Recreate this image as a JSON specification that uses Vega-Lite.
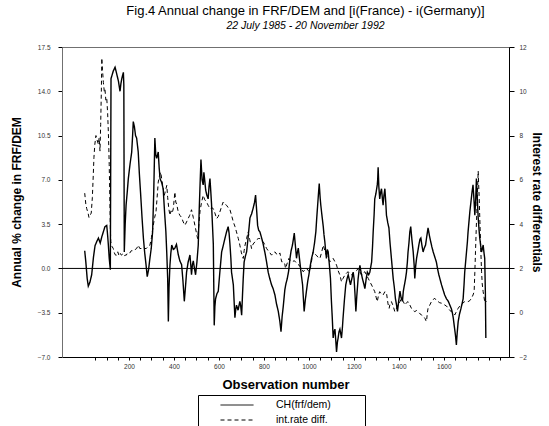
{
  "$schema": "https://vega.github.io/schema/vega-lite/v6.json",
  "autosize": {"type": "none"},
  "padding": {"left": 62, "top": 47, "right": 40, "bottom": 69},
  "width": 447,
  "height": 310,
  "background": "white",
  "config": {
    "font": "Liberation Sans",
    "view": {"stroke": "#707070", "strokeWidth": 1},
    "axis": {"grid": false, "labelFont": "Liberation Sans", "titleFont": "Liberation Sans", "labelColor": "#333", "labelFontSize": 6.5, "titleColor": "black", "titleFontWeight": "bold"}
  },
  "title": {
    "text": "Fig.4 Annual change in FRF/DEM and [i(France) - i(Germany)]",
    "subtitle": "22 July 1985 - 20 November 1992",
    "anchor": "middle",
    "frame": "group",
    "fontSize": 13,
    "fontWeight": "normal",
    "font": "Liberation Sans",
    "color": "black",
    "subtitleFont": "Liberation Sans",
    "subtitleFontStyle": "italic",
    "subtitleFontSize": 10.5,
    "subtitleColor": "black",
    "subtitlePadding": 3,
    "offset": 13,
    "dx": 20
  },
  "data": {
    "values": [
      {"s":"CH(frf/dem)","obs":3,"v":1.4},{"s":"CH(frf/dem)","obs":8,"v":0.5},{"s":"CH(frf/dem)","obs":14,"v":-0.8},{"s":"CH(frf/dem)","obs":19,"v":-1.4},{"s":"CH(frf/dem)","obs":26,"v":-1.1},{"s":"CH(frf/dem)","obs":34,"v":-0.5},{"s":"CH(frf/dem)","obs":42,"v":0.9},{"s":"CH(frf/dem)","obs":49,"v":1.8},{"s":"CH(frf/dem)","obs":56,"v":2.1},{"s":"CH(frf/dem)","obs":64,"v":2.4},{"s":"CH(frf/dem)","obs":72,"v":2.0},{"s":"CH(frf/dem)","obs":79,"v":2.5},{"s":"CH(frf/dem)","obs":86,"v":2.9},{"s":"CH(frf/dem)","obs":93,"v":3.3},{"s":"CH(frf/dem)","obs":101,"v":3.4},{"s":"CH(frf/dem)","obs":105,"v":2.6},{"s":"CH(frf/dem)","obs":108,"v":1.9},{"s":"CH(frf/dem)","obs":112,"v":0.8},{"s":"CH(frf/dem)","obs":117,"v":-0.1},{"s":"CH(frf/dem)","obs":120,"v":15.0},{"s":"CH(frf/dem)","obs":125,"v":15.3},{"s":"CH(frf/dem)","obs":130,"v":15.6},{"s":"CH(frf/dem)","obs":138,"v":15.9},{"s":"CH(frf/dem)","obs":145,"v":15.4},{"s":"CH(frf/dem)","obs":153,"v":14.8},{"s":"CH(frf/dem)","obs":160,"v":14.0},{"s":"CH(frf/dem)","obs":164,"v":14.6},{"s":"CH(frf/dem)","obs":168,"v":15.0},{"s":"CH(frf/dem)","obs":175,"v":15.5},{"s":"CH(frf/dem)","obs":177,"v":14.5},{"s":"CH(frf/dem)","obs":179,"v":1.3},{"s":"CH(frf/dem)","obs":183,"v":3.5},{"s":"CH(frf/dem)","obs":187,"v":5.0},{"s":"CH(frf/dem)","obs":192,"v":6.0},{"s":"CH(frf/dem)","obs":197,"v":7.1},{"s":"CH(frf/dem)","obs":205,"v":8.3},{"s":"CH(frf/dem)","obs":212,"v":9.2},{"s":"CH(frf/dem)","obs":216,"v":10.5},{"s":"CH(frf/dem)","obs":219,"v":11.6},{"s":"CH(frf/dem)","obs":224,"v":11.2},{"s":"CH(frf/dem)","obs":229,"v":10.5},{"s":"CH(frf/dem)","obs":234,"v":10.3},{"s":"CH(frf/dem)","obs":241,"v":9.2},{"s":"CH(frf/dem)","obs":246,"v":7.5},{"s":"CH(frf/dem)","obs":252,"v":5.8},{"s":"CH(frf/dem)","obs":258,"v":4.0},{"s":"CH(frf/dem)","obs":264,"v":2.4},{"s":"CH(frf/dem)","obs":270,"v":1.2},{"s":"CH(frf/dem)","obs":276,"v":0.25},{"s":"CH(frf/dem)","obs":281,"v":-0.65},{"s":"CH(frf/dem)","obs":287,"v":-0.1},{"s":"CH(frf/dem)","obs":293,"v":0.8},{"s":"CH(frf/dem)","obs":299,"v":1.6},{"s":"CH(frf/dem)","obs":305,"v":2.9},{"s":"CH(frf/dem)","obs":310,"v":6.0},{"s":"CH(frf/dem)","obs":315,"v":10.3},{"s":"CH(frf/dem)","obs":319,"v":9.0},{"s":"CH(frf/dem)","obs":323,"v":8.7},{"s":"CH(frf/dem)","obs":330,"v":9.2},{"s":"CH(frf/dem)","obs":334,"v":8.0},{"s":"CH(frf/dem)","obs":338,"v":7.1},{"s":"CH(frf/dem)","obs":345,"v":6.8},{"s":"CH(frf/dem)","obs":352,"v":6.3},{"s":"CH(frf/dem)","obs":358,"v":4.5},{"s":"CH(frf/dem)","obs":364,"v":2.9},{"s":"CH(frf/dem)","obs":368,"v":1.2},{"s":"CH(frf/dem)","obs":372,"v":-0.8},{"s":"CH(frf/dem)","obs":375,"v":-4.2},{"s":"CH(frf/dem)","obs":378,"v":-1.5},{"s":"CH(frf/dem)","obs":382,"v":0.25},{"s":"CH(frf/dem)","obs":386,"v":1.2},{"s":"CH(frf/dem)","obs":390,"v":1.85},{"s":"CH(frf/dem)","obs":397,"v":1.5},{"s":"CH(frf/dem)","obs":404,"v":1.6},{"s":"CH(frf/dem)","obs":411,"v":1.9},{"s":"CH(frf/dem)","obs":419,"v":1.1},{"s":"CH(frf/dem)","obs":426,"v":0.6},{"s":"CH(frf/dem)","obs":434,"v":0.3},{"s":"CH(frf/dem)","obs":440,"v":-1.0},{"s":"CH(frf/dem)","obs":446,"v":-2.6},{"s":"CH(frf/dem)","obs":451,"v":-1.5},{"s":"CH(frf/dem)","obs":456,"v":-0.3},{"s":"CH(frf/dem)","obs":463,"v":0.5},{"s":"CH(frf/dem)","obs":471,"v":1.06},{"s":"CH(frf/dem)","obs":475,"v":0.2},{"s":"CH(frf/dem)","obs":478,"v":-0.5},{"s":"CH(frf/dem)","obs":482,"v":0.3},{"s":"CH(frf/dem)","obs":486,"v":0.6},{"s":"CH(frf/dem)","obs":491,"v":0.0},{"s":"CH(frf/dem)","obs":496,"v":-0.5},{"s":"CH(frf/dem)","obs":502,"v":0.5},{"s":"CH(frf/dem)","obs":508,"v":1.85},{"s":"CH(frf/dem)","obs":512,"v":4.5},{"s":"CH(frf/dem)","obs":516,"v":6.6},{"s":"CH(frf/dem)","obs":520,"v":8.6},{"s":"CH(frf/dem)","obs":525,"v":7.0},{"s":"CH(frf/dem)","obs":530,"v":6.6},{"s":"CH(frf/dem)","obs":533,"v":7.6},{"s":"CH(frf/dem)","obs":536,"v":7.1},{"s":"CH(frf/dem)","obs":541,"v":6.2},{"s":"CH(frf/dem)","obs":546,"v":5.8},{"s":"CH(frf/dem)","obs":552,"v":5.5},{"s":"CH(frf/dem)","obs":556,"v":6.5},{"s":"CH(frf/dem)","obs":560,"v":7.1},{"s":"CH(frf/dem)","obs":564,"v":6.0},{"s":"CH(frf/dem)","obs":567,"v":5.1},{"s":"CH(frf/dem)","obs":571,"v":3.5},{"s":"CH(frf/dem)","obs":575,"v":1.9},{"s":"CH(frf/dem)","obs":579,"v":-4.5},{"s":"CH(frf/dem)","obs":582,"v":-3.0},{"s":"CH(frf/dem)","obs":585,"v":-2.4},{"s":"CH(frf/dem)","obs":591,"v":-2.0},{"s":"CH(frf/dem)","obs":597,"v":-1.8},{"s":"CH(frf/dem)","obs":604,"v":-0.3},{"s":"CH(frf/dem)","obs":612,"v":1.3},{"s":"CH(frf/dem)","obs":619,"v":1.8},{"s":"CH(frf/dem)","obs":627,"v":2.4},{"s":"CH(frf/dem)","obs":634,"v":2.9},{"s":"CH(frf/dem)","obs":641,"v":3.3},{"s":"CH(frf/dem)","obs":645,"v":2.8},{"s":"CH(frf/dem)","obs":649,"v":1.9},{"s":"CH(frf/dem)","obs":653,"v":0.8},{"s":"CH(frf/dem)","obs":656,"v":-0.3},{"s":"CH(frf/dem)","obs":664,"v":-1.3},{"s":"CH(frf/dem)","obs":668,"v":-2.8},{"s":"CH(frf/dem)","obs":671,"v":-3.9},{"s":"CH(frf/dem)","obs":675,"v":-3.2},{"s":"CH(frf/dem)","obs":678,"v":-2.9},{"s":"CH(frf/dem)","obs":685,"v":-3.3},{"s":"CH(frf/dem)","obs":693,"v":-2.6},{"s":"CH(frf/dem)","obs":697,"v":-3.0},{"s":"CH(frf/dem)","obs":701,"v":-3.7},{"s":"CH(frf/dem)","obs":705,"v":-2.0},{"s":"CH(frf/dem)","obs":708,"v":-0.8},{"s":"CH(frf/dem)","obs":712,"v":0.5},{"s":"CH(frf/dem)","obs":718,"v":1.0},{"s":"CH(frf/dem)","obs":723,"v":1.3},{"s":"CH(frf/dem)","obs":730,"v":2.5},{"s":"CH(frf/dem)","obs":738,"v":4.0},{"s":"CH(frf/dem)","obs":745,"v":4.3},{"s":"CH(frf/dem)","obs":752,"v":4.75},{"s":"CH(frf/dem)","obs":758,"v":5.2},{"s":"CH(frf/dem)","obs":763,"v":5.8},{"s":"CH(frf/dem)","obs":768,"v":4.5},{"s":"CH(frf/dem)","obs":772,"v":3.4},{"s":"CH(frf/dem)","obs":777,"v":3.0},{"s":"CH(frf/dem)","obs":782,"v":2.9},{"s":"CH(frf/dem)","obs":790,"v":2.4},{"s":"CH(frf/dem)","obs":797,"v":1.9},{"s":"CH(frf/dem)","obs":805,"v":1.2},{"s":"CH(frf/dem)","obs":812,"v":0.5},{"s":"CH(frf/dem)","obs":819,"v":-0.3},{"s":"CH(frf/dem)","obs":826,"v":-0.8},{"s":"CH(frf/dem)","obs":834,"v":-1.3},{"s":"CH(frf/dem)","obs":841,"v":-1.6},{"s":"CH(frf/dem)","obs":849,"v":-2.1},{"s":"CH(frf/dem)","obs":856,"v":-2.8},{"s":"CH(frf/dem)","obs":864,"v":-3.4},{"s":"CH(frf/dem)","obs":871,"v":-4.2},{"s":"CH(frf/dem)","obs":876,"v":-5.0},{"s":"CH(frf/dem)","obs":881,"v":-3.8},{"s":"CH(frf/dem)","obs":886,"v":-3.0},{"s":"CH(frf/dem)","obs":893,"v":-1.7},{"s":"CH(frf/dem)","obs":898,"v":-1.2},{"s":"CH(frf/dem)","obs":904,"v":-0.8},{"s":"CH(frf/dem)","obs":910,"v":-0.2},{"s":"CH(frf/dem)","obs":916,"v":0.8},{"s":"CH(frf/dem)","obs":921,"v":1.4},{"s":"CH(frf/dem)","obs":927,"v":1.85},{"s":"CH(frf/dem)","obs":931,"v":2.3},{"s":"CH(frf/dem)","obs":935,"v":2.8},{"s":"CH(frf/dem)","obs":940,"v":1.8},{"s":"CH(frf/dem)","obs":945,"v":0.8},{"s":"CH(frf/dem)","obs":949,"v":1.3},{"s":"CH(frf/dem)","obs":953,"v":1.6},{"s":"CH(frf/dem)","obs":958,"v":0.8},{"s":"CH(frf/dem)","obs":963,"v":0.0},{"s":"CH(frf/dem)","obs":967,"v":-0.6},{"s":"CH(frf/dem)","obs":972,"v":-1.3},{"s":"CH(frf/dem)","obs":976,"v":-2.5},{"s":"CH(frf/dem)","obs":979,"v":-3.4},{"s":"CH(frf/dem)","obs":984,"v":-2.5},{"s":"CH(frf/dem)","obs":989,"v":-1.8},{"s":"CH(frf/dem)","obs":995,"v":-1.0},{"s":"CH(frf/dem)","obs":1000,"v":-0.5},{"s":"CH(frf/dem)","obs":1006,"v":0.2},{"s":"CH(frf/dem)","obs":1012,"v":0.8},{"s":"CH(frf/dem)","obs":1019,"v":1.3},{"s":"CH(frf/dem)","obs":1025,"v":2.0},{"s":"CH(frf/dem)","obs":1031,"v":2.9},{"s":"CH(frf/dem)","obs":1035,"v":4.0},{"s":"CH(frf/dem)","obs":1039,"v":5.0},{"s":"CH(frf/dem)","obs":1043,"v":6.0},{"s":"CH(frf/dem)","obs":1046,"v":6.7},{"s":"CH(frf/dem)","obs":1050,"v":5.6},{"s":"CH(frf/dem)","obs":1053,"v":5.0},{"s":"CH(frf/dem)","obs":1058,"v":4.2},{"s":"CH(frf/dem)","obs":1064,"v":3.3},{"s":"CH(frf/dem)","obs":1067,"v":2.7},{"s":"CH(frf/dem)","obs":1071,"v":2.1},{"s":"CH(frf/dem)","obs":1075,"v":1.3},{"s":"CH(frf/dem)","obs":1078,"v":0.8},{"s":"CH(frf/dem)","obs":1082,"v":1.5},{"s":"CH(frf/dem)","obs":1086,"v":1.3},{"s":"CH(frf/dem)","obs":1091,"v":0.3},{"s":"CH(frf/dem)","obs":1096,"v":-0.8},{"s":"CH(frf/dem)","obs":1100,"v":-2.5},{"s":"CH(frf/dem)","obs":1104,"v":-3.9},{"s":"CH(frf/dem)","obs":1108,"v":-5.5},{"s":"CH(frf/dem)","obs":1112,"v":-5.0},{"s":"CH(frf/dem)","obs":1116,"v":-4.8},{"s":"CH(frf/dem)","obs":1120,"v":-5.8},{"s":"CH(frf/dem)","obs":1123,"v":-6.6},{"s":"CH(frf/dem)","obs":1127,"v":-5.8},{"s":"CH(frf/dem)","obs":1130,"v":-5.5},{"s":"CH(frf/dem)","obs":1134,"v":-5.0},{"s":"CH(frf/dem)","obs":1138,"v":-4.8},{"s":"CH(frf/dem)","obs":1142,"v":-5.2},{"s":"CH(frf/dem)","obs":1145,"v":-5.5},{"s":"CH(frf/dem)","obs":1149,"v":-4.7},{"s":"CH(frf/dem)","obs":1152,"v":-3.9},{"s":"CH(frf/dem)","obs":1158,"v":-2.5},{"s":"CH(frf/dem)","obs":1164,"v":-1.3},{"s":"CH(frf/dem)","obs":1170,"v":-0.8},{"s":"CH(frf/dem)","obs":1175,"v":-0.5},{"s":"CH(frf/dem)","obs":1180,"v":-0.9},{"s":"CH(frf/dem)","obs":1185,"v":-1.3},{"s":"CH(frf/dem)","obs":1190,"v":-0.9},{"s":"CH(frf/dem)","obs":1197,"v":-0.3},{"s":"CH(frf/dem)","obs":1201,"v":-0.8},{"s":"CH(frf/dem)","obs":1205,"v":-2.0},{"s":"CH(frf/dem)","obs":1209,"v":-3.4},{"s":"CH(frf/dem)","obs":1213,"v":-2.2},{"s":"CH(frf/dem)","obs":1219,"v":-0.8},{"s":"CH(frf/dem)","obs":1223,"v":-0.2},{"s":"CH(frf/dem)","obs":1227,"v":0.25},{"s":"CH(frf/dem)","obs":1232,"v":-0.3},{"s":"CH(frf/dem)","obs":1238,"v":-0.8},{"s":"CH(frf/dem)","obs":1244,"v":-1.2},{"s":"CH(frf/dem)","obs":1249,"v":-1.6},{"s":"CH(frf/dem)","obs":1255,"v":-0.8},{"s":"CH(frf/dem)","obs":1260,"v":-0.3},{"s":"CH(frf/dem)","obs":1266,"v":-0.5},{"s":"CH(frf/dem)","obs":1271,"v":-0.3},{"s":"CH(frf/dem)","obs":1275,"v":0.1},{"s":"CH(frf/dem)","obs":1279,"v":0.5},{"s":"CH(frf/dem)","obs":1283,"v":1.7},{"s":"CH(frf/dem)","obs":1286,"v":2.9},{"s":"CH(frf/dem)","obs":1290,"v":4.2},{"s":"CH(frf/dem)","obs":1293,"v":5.5},{"s":"CH(frf/dem)","obs":1298,"v":5.9},{"s":"CH(frf/dem)","obs":1304,"v":6.6},{"s":"CH(frf/dem)","obs":1306,"v":7.0},{"s":"CH(frf/dem)","obs":1308,"v":8.0},{"s":"CH(frf/dem)","obs":1311,"v":6.5},{"s":"CH(frf/dem)","obs":1315,"v":5.5},{"s":"CH(frf/dem)","obs":1319,"v":6.0},{"s":"CH(frf/dem)","obs":1323,"v":6.3},{"s":"CH(frf/dem)","obs":1327,"v":5.5},{"s":"CH(frf/dem)","obs":1330,"v":5.0},{"s":"CH(frf/dem)","obs":1334,"v":5.8},{"s":"CH(frf/dem)","obs":1338,"v":6.3},{"s":"CH(frf/dem)","obs":1342,"v":5.2},{"s":"CH(frf/dem)","obs":1345,"v":4.2},{"s":"CH(frf/dem)","obs":1351,"v":3.6},{"s":"CH(frf/dem)","obs":1356,"v":3.2},{"s":"CH(frf/dem)","obs":1361,"v":2.0},{"s":"CH(frf/dem)","obs":1367,"v":0.8},{"s":"CH(frf/dem)","obs":1371,"v":0.0},{"s":"CH(frf/dem)","obs":1375,"v":-0.8},{"s":"CH(frf/dem)","obs":1380,"v":-1.5},{"s":"CH(frf/dem)","obs":1385,"v":-2.4},{"s":"CH(frf/dem)","obs":1390,"v":-2.9},{"s":"CH(frf/dem)","obs":1394,"v":-3.4},{"s":"CH(frf/dem)","obs":1400,"v":-2.5},{"s":"CH(frf/dem)","obs":1405,"v":-1.8},{"s":"CH(frf/dem)","obs":1410,"v":-2.3},{"s":"CH(frf/dem)","obs":1416,"v":-2.6},{"s":"CH(frf/dem)","obs":1420,"v":-1.8},{"s":"CH(frf/dem)","obs":1425,"v":-1.3},{"s":"CH(frf/dem)","obs":1430,"v":-0.8},{"s":"CH(frf/dem)","obs":1434,"v":-0.3},{"s":"CH(frf/dem)","obs":1438,"v":0.5},{"s":"CH(frf/dem)","obs":1441,"v":1.3},{"s":"CH(frf/dem)","obs":1445,"v":2.0},{"s":"CH(frf/dem)","obs":1449,"v":2.9},{"s":"CH(frf/dem)","obs":1453,"v":3.3},{"s":"CH(frf/dem)","obs":1458,"v":2.3},{"s":"CH(frf/dem)","obs":1464,"v":1.3},{"s":"CH(frf/dem)","obs":1468,"v":0.3},{"s":"CH(frf/dem)","obs":1471,"v":-0.8},{"s":"CH(frf/dem)","obs":1475,"v":0.2},{"s":"CH(frf/dem)","obs":1479,"v":0.8},{"s":"CH(frf/dem)","obs":1484,"v":1.3},{"s":"CH(frf/dem)","obs":1489,"v":1.85},{"s":"CH(frf/dem)","obs":1494,"v":2.3},{"s":"CH(frf/dem)","obs":1498,"v":2.4},{"s":"CH(frf/dem)","obs":1503,"v":1.8},{"s":"CH(frf/dem)","obs":1508,"v":1.3},{"s":"CH(frf/dem)","obs":1513,"v":1.6},{"s":"CH(frf/dem)","obs":1519,"v":1.85},{"s":"CH(frf/dem)","obs":1524,"v":2.5},{"s":"CH(frf/dem)","obs":1530,"v":3.2},{"s":"CH(frf/dem)","obs":1536,"v":2.6},{"s":"CH(frf/dem)","obs":1542,"v":2.1},{"s":"CH(frf/dem)","obs":1547,"v":1.7},{"s":"CH(frf/dem)","obs":1553,"v":1.3},{"s":"CH(frf/dem)","obs":1560,"v":0.9},{"s":"CH(frf/dem)","obs":1567,"v":0.5},{"s":"CH(frf/dem)","obs":1572,"v":0.0},{"s":"CH(frf/dem)","obs":1578,"v":-0.5},{"s":"CH(frf/dem)","obs":1584,"v":-0.9},{"s":"CH(frf/dem)","obs":1590,"v":-1.3},{"s":"CH(frf/dem)","obs":1597,"v":-1.7},{"s":"CH(frf/dem)","obs":1604,"v":-2.1},{"s":"CH(frf/dem)","obs":1612,"v":-2.4},{"s":"CH(frf/dem)","obs":1620,"v":-2.6},{"s":"CH(frf/dem)","obs":1627,"v":-2.9},{"s":"CH(frf/dem)","obs":1634,"v":-3.2},{"s":"CH(frf/dem)","obs":1638,"v":-3.5},{"s":"CH(frf/dem)","obs":1642,"v":-3.9},{"s":"CH(frf/dem)","obs":1647,"v":-4.6},{"s":"CH(frf/dem)","obs":1652,"v":-5.3},{"s":"CH(frf/dem)","obs":1656,"v":-6.05},{"s":"CH(frf/dem)","obs":1660,"v":-5.0},{"s":"CH(frf/dem)","obs":1664,"v":-4.2},{"s":"CH(frf/dem)","obs":1670,"v":-3.6},{"s":"CH(frf/dem)","obs":1676,"v":-3.2},{"s":"CH(frf/dem)","obs":1681,"v":-2.8},{"s":"CH(frf/dem)","obs":1686,"v":-2.4},{"s":"CH(frf/dem)","obs":1690,"v":-1.3},{"s":"CH(frf/dem)","obs":1693,"v":-0.3},{"s":"CH(frf/dem)","obs":1697,"v":0.5},{"s":"CH(frf/dem)","obs":1701,"v":1.3},{"s":"CH(frf/dem)","obs":1705,"v":2.1},{"s":"CH(frf/dem)","obs":1708,"v":2.9},{"s":"CH(frf/dem)","obs":1712,"v":3.7},{"s":"CH(frf/dem)","obs":1716,"v":4.5},{"s":"CH(frf/dem)","obs":1721,"v":5.3},{"s":"CH(frf/dem)","obs":1726,"v":6.1},{"s":"CH(frf/dem)","obs":1730,"v":6.6},{"s":"CH(frf/dem)","obs":1734,"v":5.5},{"s":"CH(frf/dem)","obs":1738,"v":4.2},{"s":"CH(frf/dem)","obs":1742,"v":5.5},{"s":"CH(frf/dem)","obs":1745,"v":7.1},{"s":"CH(frf/dem)","obs":1749,"v":5.5},{"s":"CH(frf/dem)","obs":1753,"v":4.0},{"s":"CH(frf/dem)","obs":1757,"v":3.0},{"s":"CH(frf/dem)","obs":1760,"v":2.4},{"s":"CH(frf/dem)","obs":1764,"v":1.8},{"s":"CH(frf/dem)","obs":1768,"v":1.3},{"s":"CH(frf/dem)","obs":1772,"v":1.6},{"s":"CH(frf/dem)","obs":1775,"v":1.85},{"s":"CH(frf/dem)","obs":1779,"v":1.2},{"s":"CH(frf/dem)","obs":1782,"v":0.8},{"s":"CH(frf/dem)","obs":1785,"v":-2.0},{"s":"CH(frf/dem)","obs":1787,"v":-5.5},
      {"s":"int.rate diff.","obs":3,"v":5.4},{"s":"int.rate diff.","obs":8,"v":4.9},{"s":"int.rate diff.","obs":12,"v":4.7},{"s":"int.rate diff.","obs":18,"v":4.5},{"s":"int.rate diff.","obs":22,"v":4.3},{"s":"int.rate diff.","obs":27,"v":4.4},{"s":"int.rate diff.","obs":32,"v":4.5},{"s":"int.rate diff.","obs":37,"v":5.2},{"s":"int.rate diff.","obs":41,"v":6.2},{"s":"int.rate diff.","obs":44,"v":7.0},{"s":"int.rate diff.","obs":48,"v":7.6},{"s":"int.rate diff.","obs":53,"v":8.0},{"s":"int.rate diff.","obs":58,"v":7.8},{"s":"int.rate diff.","obs":64,"v":7.6},{"s":"int.rate diff.","obs":67,"v":7.9},{"s":"int.rate diff.","obs":71,"v":7.3},{"s":"int.rate diff.","obs":74,"v":8.5},{"s":"int.rate diff.","obs":77,"v":10.0},{"s":"int.rate diff.","obs":79,"v":11.5},{"s":"int.rate diff.","obs":82,"v":11.0},{"s":"int.rate diff.","obs":86,"v":10.4},{"s":"int.rate diff.","obs":90,"v":10.0},{"s":"int.rate diff.","obs":93,"v":10.1},{"s":"int.rate diff.","obs":97,"v":9.6},{"s":"int.rate diff.","obs":101,"v":9.7},{"s":"int.rate diff.","obs":105,"v":9.0},{"s":"int.rate diff.","obs":108,"v":8.2},{"s":"int.rate diff.","obs":110,"v":7.5},{"s":"int.rate diff.","obs":112,"v":6.7},{"s":"int.rate diff.","obs":115,"v":5.0},{"s":"int.rate diff.","obs":117,"v":3.8},{"s":"int.rate diff.","obs":119,"v":3.2},{"s":"int.rate diff.","obs":124,"v":3.0},{"s":"int.rate diff.","obs":130,"v":2.9},{"s":"int.rate diff.","obs":135,"v":2.7},{"s":"int.rate diff.","obs":140,"v":2.6},{"s":"int.rate diff.","obs":145,"v":2.6},{"s":"int.rate diff.","obs":150,"v":2.75},{"s":"int.rate diff.","obs":155,"v":2.6},{"s":"int.rate diff.","obs":160,"v":2.7},{"s":"int.rate diff.","obs":166,"v":2.6},{"s":"int.rate diff.","obs":172,"v":2.65},{"s":"int.rate diff.","obs":177,"v":2.55},{"s":"int.rate diff.","obs":182,"v":2.6},{"s":"int.rate diff.","obs":188,"v":2.6},{"s":"int.rate diff.","obs":193,"v":2.7},{"s":"int.rate diff.","obs":198,"v":2.7},{"s":"int.rate diff.","obs":204,"v":2.7},{"s":"int.rate diff.","obs":210,"v":2.8},{"s":"int.rate diff.","obs":215,"v":2.8},{"s":"int.rate diff.","obs":220,"v":2.85},{"s":"int.rate diff.","obs":227,"v":2.85},{"s":"int.rate diff.","obs":234,"v":2.9},{"s":"int.rate diff.","obs":241,"v":3.05},{"s":"int.rate diff.","obs":248,"v":2.9},{"s":"int.rate diff.","obs":256,"v":2.9},{"s":"int.rate diff.","obs":263,"v":2.95},{"s":"int.rate diff.","obs":270,"v":2.9},{"s":"int.rate diff.","obs":277,"v":2.9},{"s":"int.rate diff.","obs":285,"v":3.0},{"s":"int.rate diff.","obs":293,"v":3.05},{"s":"int.rate diff.","obs":300,"v":3.4},{"s":"int.rate diff.","obs":308,"v":3.95},{"s":"int.rate diff.","obs":314,"v":4.3},{"s":"int.rate diff.","obs":320,"v":4.55},{"s":"int.rate diff.","obs":325,"v":5.2},{"s":"int.rate diff.","obs":330,"v":5.9},{"s":"int.rate diff.","obs":336,"v":6.2},{"s":"int.rate diff.","obs":341,"v":6.35},{"s":"int.rate diff.","obs":346,"v":6.0},{"s":"int.rate diff.","obs":352,"v":5.6},{"s":"int.rate diff.","obs":357,"v":5.3},{"s":"int.rate diff.","obs":362,"v":5.5},{"s":"int.rate diff.","obs":368,"v":5.75},{"s":"int.rate diff.","obs":372,"v":5.2},{"s":"int.rate diff.","obs":377,"v":4.7},{"s":"int.rate diff.","obs":382,"v":4.4},{"s":"int.rate diff.","obs":387,"v":4.6},{"s":"int.rate diff.","obs":392,"v":4.5},{"s":"int.rate diff.","obs":397,"v":4.7},{"s":"int.rate diff.","obs":404,"v":5.45},{"s":"int.rate diff.","obs":408,"v":5.0},{"s":"int.rate diff.","obs":412,"v":4.9},{"s":"int.rate diff.","obs":419,"v":4.55},{"s":"int.rate diff.","obs":426,"v":4.4},{"s":"int.rate diff.","obs":434,"v":4.3},{"s":"int.rate diff.","obs":441,"v":4.1},{"s":"int.rate diff.","obs":449,"v":3.95},{"s":"int.rate diff.","obs":456,"v":4.1},{"s":"int.rate diff.","obs":463,"v":4.25},{"s":"int.rate diff.","obs":470,"v":4.4},{"s":"int.rate diff.","obs":478,"v":4.65},{"s":"int.rate diff.","obs":486,"v":4.3},{"s":"int.rate diff.","obs":493,"v":3.95},{"s":"int.rate diff.","obs":500,"v":3.6},{"s":"int.rate diff.","obs":505,"v":3.35},{"s":"int.rate diff.","obs":510,"v":3.9},{"s":"int.rate diff.","obs":516,"v":4.6},{"s":"int.rate diff.","obs":523,"v":5.0},{"s":"int.rate diff.","obs":530,"v":5.3},{"s":"int.rate diff.","obs":537,"v":5.1},{"s":"int.rate diff.","obs":545,"v":5.0},{"s":"int.rate diff.","obs":552,"v":4.85},{"s":"int.rate diff.","obs":560,"v":4.7},{"s":"int.rate diff.","obs":567,"v":4.75},{"s":"int.rate diff.","obs":575,"v":4.7},{"s":"int.rate diff.","obs":582,"v":4.5},{"s":"int.rate diff.","obs":590,"v":4.25},{"s":"int.rate diff.","obs":597,"v":4.35},{"s":"int.rate diff.","obs":604,"v":4.55},{"s":"int.rate diff.","obs":612,"v":4.8},{"s":"int.rate diff.","obs":619,"v":5.0},{"s":"int.rate diff.","obs":627,"v":4.9},{"s":"int.rate diff.","obs":634,"v":4.85},{"s":"int.rate diff.","obs":641,"v":4.75},{"s":"int.rate diff.","obs":649,"v":4.65},{"s":"int.rate diff.","obs":656,"v":4.4},{"s":"int.rate diff.","obs":664,"v":4.1},{"s":"int.rate diff.","obs":671,"v":3.9},{"s":"int.rate diff.","obs":678,"v":3.65},{"s":"int.rate diff.","obs":686,"v":3.35},{"s":"int.rate diff.","obs":693,"v":3.05},{"s":"int.rate diff.","obs":700,"v":2.7},{"s":"int.rate diff.","obs":708,"v":2.45},{"s":"int.rate diff.","obs":712,"v":2.8},{"s":"int.rate diff.","obs":716,"v":3.05},{"s":"int.rate diff.","obs":723,"v":3.35},{"s":"int.rate diff.","obs":730,"v":3.65},{"s":"int.rate diff.","obs":737,"v":3.3},{"s":"int.rate diff.","obs":745,"v":2.9},{"s":"int.rate diff.","obs":752,"v":3.1},{"s":"int.rate diff.","obs":760,"v":3.2},{"s":"int.rate diff.","obs":768,"v":3.3},{"s":"int.rate diff.","obs":775,"v":3.35},{"s":"int.rate diff.","obs":782,"v":3.35},{"s":"int.rate diff.","obs":790,"v":3.25},{"s":"int.rate diff.","obs":797,"v":3.2},{"s":"int.rate diff.","obs":805,"v":3.05},{"s":"int.rate diff.","obs":812,"v":2.9},{"s":"int.rate diff.","obs":819,"v":2.8},{"s":"int.rate diff.","obs":827,"v":2.7},{"s":"int.rate diff.","obs":834,"v":2.6},{"s":"int.rate diff.","obs":842,"v":2.7},{"s":"int.rate diff.","obs":849,"v":2.75},{"s":"int.rate diff.","obs":856,"v":2.65},{"s":"int.rate diff.","obs":864,"v":2.6},{"s":"int.rate diff.","obs":871,"v":2.7},{"s":"int.rate diff.","obs":879,"v":2.3},{"s":"int.rate diff.","obs":886,"v":2.3},{"s":"int.rate diff.","obs":893,"v":2.2},{"s":"int.rate diff.","obs":896,"v":2.0},{"s":"int.rate diff.","obs":904,"v":2.25},{"s":"int.rate diff.","obs":911,"v":2.45},{"s":"int.rate diff.","obs":919,"v":2.35},{"s":"int.rate diff.","obs":927,"v":2.3},{"s":"int.rate diff.","obs":934,"v":2.35},{"s":"int.rate diff.","obs":941,"v":2.3},{"s":"int.rate diff.","obs":949,"v":2.2},{"s":"int.rate diff.","obs":956,"v":2.15},{"s":"int.rate diff.","obs":963,"v":2.05},{"s":"int.rate diff.","obs":970,"v":1.95},{"s":"int.rate diff.","obs":975,"v":1.85},{"s":"int.rate diff.","obs":983,"v":1.95},{"s":"int.rate diff.","obs":990,"v":2.0},{"s":"int.rate diff.","obs":997,"v":1.9},{"s":"int.rate diff.","obs":1004,"v":1.85},{"s":"int.rate diff.","obs":1010,"v":2.2},{"s":"int.rate diff.","obs":1016,"v":2.6},{"s":"int.rate diff.","obs":1019,"v":2.75},{"s":"int.rate diff.","obs":1026,"v":2.65},{"s":"int.rate diff.","obs":1033,"v":2.6},{"s":"int.rate diff.","obs":1041,"v":2.5},{"s":"int.rate diff.","obs":1049,"v":2.45},{"s":"int.rate diff.","obs":1056,"v":2.7},{"s":"int.rate diff.","obs":1064,"v":3.05},{"s":"int.rate diff.","obs":1071,"v":2.8},{"s":"int.rate diff.","obs":1078,"v":2.6},{"s":"int.rate diff.","obs":1086,"v":2.45},{"s":"int.rate diff.","obs":1093,"v":2.3},{"s":"int.rate diff.","obs":1100,"v":2.35},{"s":"int.rate diff.","obs":1108,"v":2.45},{"s":"int.rate diff.","obs":1116,"v":2.3},{"s":"int.rate diff.","obs":1123,"v":2.15},{"s":"int.rate diff.","obs":1130,"v":1.9},{"s":"int.rate diff.","obs":1138,"v":1.7},{"s":"int.rate diff.","obs":1145,"v":1.4},{"s":"int.rate diff.","obs":1152,"v":1.55},{"s":"int.rate diff.","obs":1160,"v":1.7},{"s":"int.rate diff.","obs":1168,"v":1.8},{"s":"int.rate diff.","obs":1175,"v":1.85},{"s":"int.rate diff.","obs":1182,"v":1.75},{"s":"int.rate diff.","obs":1190,"v":1.7},{"s":"int.rate diff.","obs":1197,"v":1.8},{"s":"int.rate diff.","obs":1204,"v":1.85},{"s":"int.rate diff.","obs":1212,"v":1.9},{"s":"int.rate diff.","obs":1219,"v":2.0},{"s":"int.rate diff.","obs":1227,"v":1.85},{"s":"int.rate diff.","obs":1234,"v":1.7},{"s":"int.rate diff.","obs":1241,"v":1.8},{"s":"int.rate diff.","obs":1249,"v":1.85},{"s":"int.rate diff.","obs":1256,"v":1.7},{"s":"int.rate diff.","obs":1264,"v":1.55},{"s":"int.rate diff.","obs":1271,"v":1.4},{"s":"int.rate diff.","obs":1279,"v":1.25},{"s":"int.rate diff.","obs":1286,"v":1.1},{"s":"int.rate diff.","obs":1293,"v":0.95},{"s":"int.rate diff.","obs":1299,"v":0.7},{"s":"int.rate diff.","obs":1304,"v":0.5},{"s":"int.rate diff.","obs":1310,"v":0.8},{"s":"int.rate diff.","obs":1315,"v":0.95},{"s":"int.rate diff.","obs":1322,"v":0.85},{"s":"int.rate diff.","obs":1330,"v":0.8},{"s":"int.rate diff.","obs":1338,"v":0.95},{"s":"int.rate diff.","obs":1345,"v":0.9},{"s":"int.rate diff.","obs":1352,"v":0.4},{"s":"int.rate diff.","obs":1357,"v":0.2},{"s":"int.rate diff.","obs":1362,"v":0.45},{"s":"int.rate diff.","obs":1367,"v":0.5},{"s":"int.rate diff.","obs":1375,"v":0.3},{"s":"int.rate diff.","obs":1382,"v":0.05},{"s":"int.rate diff.","obs":1390,"v":0.2},{"s":"int.rate diff.","obs":1397,"v":0.35},{"s":"int.rate diff.","obs":1405,"v":0.5},{"s":"int.rate diff.","obs":1412,"v":0.65},{"s":"int.rate diff.","obs":1420,"v":0.5},{"s":"int.rate diff.","obs":1427,"v":0.35},{"s":"int.rate diff.","obs":1434,"v":0.45},{"s":"int.rate diff.","obs":1441,"v":0.5},{"s":"int.rate diff.","obs":1449,"v":0.35},{"s":"int.rate diff.","obs":1456,"v":0.2},{"s":"int.rate diff.","obs":1464,"v":0.1},{"s":"int.rate diff.","obs":1471,"v":0.05},{"s":"int.rate diff.","obs":1479,"v":0.1},{"s":"int.rate diff.","obs":1486,"v":0.05},{"s":"int.rate diff.","obs":1494,"v":-0.05},{"s":"int.rate diff.","obs":1501,"v":-0.1},{"s":"int.rate diff.","obs":1508,"v":-0.15},{"s":"int.rate diff.","obs":1516,"v":-0.25},{"s":"int.rate diff.","obs":1520,"v":-0.35},{"s":"int.rate diff.","obs":1523,"v":-0.4},{"s":"int.rate diff.","obs":1527,"v":0.0},{"s":"int.rate diff.","obs":1530,"v":0.2},{"s":"int.rate diff.","obs":1538,"v":0.35},{"s":"int.rate diff.","obs":1545,"v":0.5},{"s":"int.rate diff.","obs":1553,"v":0.6},{"s":"int.rate diff.","obs":1560,"v":0.65},{"s":"int.rate diff.","obs":1567,"v":0.55},{"s":"int.rate diff.","obs":1575,"v":0.5},{"s":"int.rate diff.","obs":1582,"v":0.45},{"s":"int.rate diff.","obs":1590,"v":0.43},{"s":"int.rate diff.","obs":1597,"v":0.4},{"s":"int.rate diff.","obs":1604,"v":0.35},{"s":"int.rate diff.","obs":1612,"v":0.3},{"s":"int.rate diff.","obs":1620,"v":0.2},{"s":"int.rate diff.","obs":1627,"v":0.1},{"s":"int.rate diff.","obs":1634,"v":0.05},{"s":"int.rate diff.","obs":1642,"v":0.0},{"s":"int.rate diff.","obs":1649,"v":-0.1},{"s":"int.rate diff.","obs":1656,"v":0.05},{"s":"int.rate diff.","obs":1664,"v":0.2},{"s":"int.rate diff.","obs":1671,"v":0.3},{"s":"int.rate diff.","obs":1679,"v":0.35},{"s":"int.rate diff.","obs":1686,"v":0.45},{"s":"int.rate diff.","obs":1693,"v":0.5},{"s":"int.rate diff.","obs":1701,"v":0.5},{"s":"int.rate diff.","obs":1708,"v":0.5},{"s":"int.rate diff.","obs":1716,"v":0.55},{"s":"int.rate diff.","obs":1723,"v":0.65},{"s":"int.rate diff.","obs":1730,"v":0.8},{"s":"int.rate diff.","obs":1735,"v":0.95},{"s":"int.rate diff.","obs":1738,"v":1.8},{"s":"int.rate diff.","obs":1741,"v":2.75},{"s":"int.rate diff.","obs":1744,"v":3.7},{"s":"int.rate diff.","obs":1747,"v":4.56},{"s":"int.rate diff.","obs":1750,"v":5.5},{"s":"int.rate diff.","obs":1753,"v":6.4},{"s":"int.rate diff.","obs":1755,"v":5.8},{"s":"int.rate diff.","obs":1757,"v":5.3},{"s":"int.rate diff.","obs":1760,"v":4.3},{"s":"int.rate diff.","obs":1762,"v":3.66},{"s":"int.rate diff.","obs":1765,"v":2.7},{"s":"int.rate diff.","obs":1768,"v":1.85},{"s":"int.rate diff.","obs":1771,"v":1.3},{"s":"int.rate diff.","obs":1775,"v":0.95},{"s":"int.rate diff.","obs":1779,"v":0.7},{"s":"int.rate diff.","obs":1782,"v":0.5},{"s":"int.rate diff.","obs":1786,"v":0.55},{"s":"int.rate diff.","obs":1790,"v":0.5}
    ]
  },
  "encoding": {
    "x": {
      "field": "obs",
      "type": "quantitative",
      "scale": {"domain": [-98, 1890], "nice": false, "zero": false},
      "axis": {
        "title": "Observation number",
        "titleFontSize": 13,
        "titlePadding": 9,
        "values": [50,100,150,200,250,300,350,400,450,500,550,600,650,700,750,800,850,900,950,1000,1050,1100,1150,1200,1250,1300,1350,1400,1450,1500,1550,1600,1650,1700,1750,1800,1850],
        "labelExpr": "datum.value % 200 == 0 && datum.value <= 1600 ? datum.value : ''",
        "tickSize": 3,
        "tickColor": "black",
        "domainColor": "black",
        "labelPadding": 3,
        "labelFlush": false
      }
    }
  },
  "layer": [
    {
      "data": {"values": [{"zero": 0}]},
      "mark": {"type": "rule", "color": "black", "strokeWidth": 1},
      "encoding": {
        "x": null,
        "y": {"field": "zero", "type": "quantitative", "scale": {"domain": [-7, 17.5], "nice": false, "zero": false}, "axis": null}
      }
    },
    {
      "transform": [{"filter": "datum.s == 'CH(frf/dem)'"}],
      "mark": {"type": "line", "color": "black", "strokeWidth": 1.4},
      "encoding": {
        "y": {
          "field": "v",
          "type": "quantitative",
          "scale": {"domain": [-7, 17.5], "nice": false, "zero": false},
          "axis": {
            "orient": "left",
            "title": "Annual % change in FRF/DEM",
            "titleFontSize": 12,
            "titlePadding": 14,
            "values": [-7, -3.5, 0, 3.5, 7, 10.5, 14, 17.5],
            "format": ".1f",
            "tickSize": 4,
            "tickColor": "black",
            "domainColor": "#707070",
            "labelPadding": 8,
            "labelFlush": false
          }
        },
        "strokeDash": {
          "field": "s",
          "type": "nominal",
          "scale": {"domain": ["CH(frf/dem)", "int.rate diff."], "range": [[1, 0], [4, 3]]},
          "legend": {
            "orient": "none",
            "legendX": 136,
            "legendY": 348,
            "title": " ",
            "titleOrient": "right",
            "titlePadding": 30,
            "titleFontSize": 10,
            "strokeColor": "black",
            "padding": 4,
            "symbolType": "M-3,0H3",
            "symbolSize": 121,
            "symbolStrokeColor": "black",
            "symbolStrokeWidth": 1,
            "symbolOffset": 29,
            "labelOffset": 33,
            "labelFontSize": 10.5,
            "labelFont": "Liberation Sans",
            "labelColor": "black",
            "rowPadding": 3
          }
        }
      }
    },
    {
      "transform": [{"filter": "datum.s == 'int.rate diff.'"}],
      "mark": {"type": "line", "color": "black", "strokeWidth": 1},
      "encoding": {
        "y": {
          "field": "v",
          "type": "quantitative",
          "scale": {"domain": [-2, 12], "nice": false, "zero": false},
          "axis": {
            "orient": "right",
            "title": "Interest rate differentials",
            "titleFontSize": 12,
            "titlePadding": 3,
            "titleAngle": 90,
            "values": [-2, 0, 2, 4, 6, 8, 10, 12],
            "format": "d",
            "tickSize": 5,
            "tickColor": "black",
            "domainColor": "black",
            "labelPadding": 5,
            "labelFlush": false
          }
        },
        "strokeDash": {"field": "s", "type": "nominal"}
      }
    }
  ],
  "resolve": {"scale": {"y": "independent"}}
}
